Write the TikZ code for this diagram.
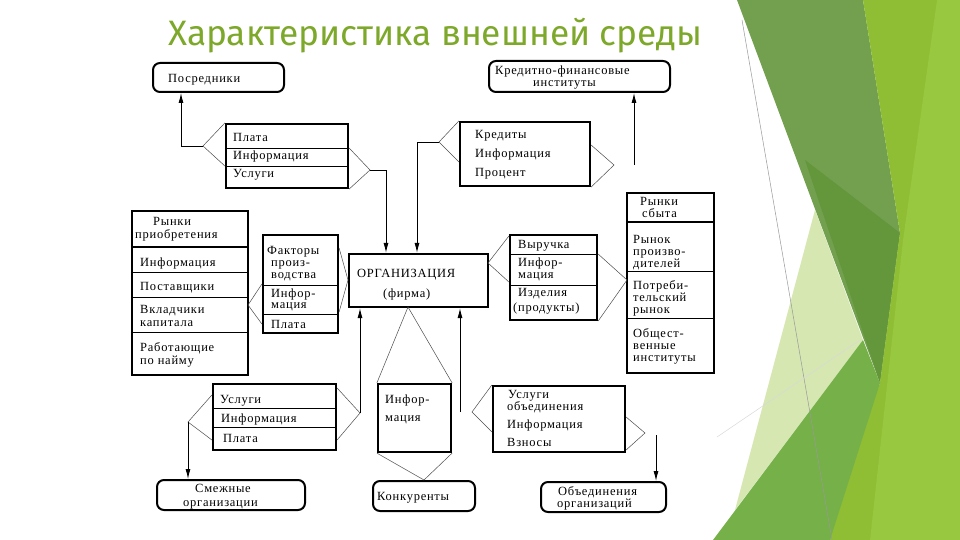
\documentclass[tikz,border=0pt]{standalone}
\usepackage{fontspec}
\usetikzlibrary{arrows.meta,calc,positioning}
\newfontfamily\scanfont[LetterSpace=6]{Liberation Serif}
\newfontfamily\titlefont{Fira Sans}
\definecolor{titlegreen}{RGB}{125,168,42}
\definecolor{bandgreen}{RGB}{114,160,78}
\definecolor{darkgreen}{RGB}{100,150,60}
\definecolor{limegreen}{RGB}{143,190,52}
\definecolor{lightlime}{RGB}{152,199,64}
\definecolor{midgreen}{RGB}{118,176,72}
\definecolor{palegreen}{RGB}{214,231,178}
\tikzset{
  tbl/.style={draw, line width=2.2pt, inner sep=0pt},
  rbox/.style={draw, line width=2pt, rounded corners=7pt, inner sep=0pt},
  lbl/.style={anchor=base west, inner sep=0pt, font=\scanfont\fontsize{12.5}{13}\selectfont},
  sep/.style={line width=0.8pt},
  hsep/.style={line width=2pt},
  brk/.style={line width=0.5pt, black!70},
  conn/.style={line width=0.9pt},
  arr/.style={conn, -{Latex[length=10pt,width=5pt]}},
}
\begin{document}
\begin{tikzpicture}[x=1pt,y=-1pt]
  \useasboundingbox (0,0) rectangle (960,540);
  \fill[white] (0,0) rectangle (960,540);

  % green decoration on the right
  \fill[palegreen] (815,210) -- (735,510) -- (863,340) -- cycle;
  \fill[bandgreen] (737,0) -- (863,0) -- (900,233) -- (880,383) -- cycle;
  \fill[darkgreen] (805,160) -- (900,233) -- (880,383) -- cycle;
  \fill[limegreen] (863,0) -- (960,0) -- (960,540) -- (817,540) -- (880,383) -- (900,233) -- cycle;
  \fill[lightlime] (937,0) -- (960,0) -- (960,540) -- (870,540) -- (903,240) -- cycle;
  \fill[midgreen] (713,540) -- (863,340) -- (880,383) -- (830,540) -- cycle;
  \draw[black!40, line width=0.5pt] (742,20) -- (832,540);
  \draw[black!15, line width=0.5pt] (717,437) -- (860,340);

  \node[anchor=base west, inner sep=0pt, font=\titlefont\fontsize{35.3}{40}\selectfont, text=titlegreen] (title) at (168,46) {Характеристика внешней среды};

  % outer partners
  \node[rbox, minimum width=131, minimum height=29] (posr) at (218.5,77.5) {};
  \node[lbl] (posrT) at (168,83) {Посредники};
  \node[rbox, minimum width=181, minimum height=31] (kred) at (579.5,76.5) {};
  \node[lbl] (kredT1) at (495,75) {Кредитно-финансовые};
  \node[lbl] (kredT2) at (533,87) {институты};
  \node[rbox, minimum width=148, minimum height=30] (smezh) at (231,495) {};
  \node[lbl] (smT1) at (195,492) {Смежные};
  \node[lbl] (smT2) at (183,506) {организации};
  \node[rbox, minimum width=102, minimum height=30] (konk) at (424,496) {};
  \node[lbl] (konT) at (377,500) {Конкуренты};
  \node[rbox, minimum width=125, minimum height=30] (obed) at (603.5,497) {};
  \node[lbl] (obdT1) at (558,495) {Объединения};
  \node[lbl] (obdT2) at (557,507) {организаций};

  % organisation
  \node[tbl, minimum width=139, minimum height=53] (org) at (418.5,280.5) {};
  \node[lbl] (orgT1) at (357,277) {ОРГАНИЗАЦИЯ};
  \node[lbl] (orgT2) at (383,297) {(фирма)};

  % flow tables
  \node[tbl, minimum width=122, minimum height=64] (plata) at (287,156) {};
  \foreach \y in {148,166} \draw[sep] (plata.west |- 0,\y) -- (plata.east |- 0,\y);
  \node[lbl] (plT1) at (233,142) {Плата};
  \node[lbl] (plT2) at (233,160) {Информация};
  \node[lbl] (plT3) at (233,178) {Услуги};

  \node[tbl, minimum width=130, minimum height=64] (cred) at (525,154) {};
  \node[lbl] (crT1) at (475,139) {Кредиты};
  \node[lbl] (crT2) at (475,158) {Информация};
  \node[lbl] (crT3) at (475,177) {Процент};

  \node[tbl, minimum width=116, minimum height=164] (rpri) at (190,293) {};
  \draw[hsep] (rpri.west |- 0,247) -- (rpri.east |- 0,247);
  \foreach \y in {272,297,332} \draw[sep] (rpri.west |- 0,\y) -- (rpri.east |- 0,\y);
  \node[lbl] (rpT1) at (153,225) {Рынки};
  \node[lbl] (rpT2) at (135,238) {приобретения};
  \node[lbl] (rpT3) at (140,266) {Информация};
  \node[lbl] (rpT4) at (140,290) {Поставщики};
  \node[lbl] (rpT5) at (140,313) {Вкладчики};
  \node[lbl] (rpT6) at (140,326) {капитала};
  \node[lbl] (rpT7) at (140,351) {Работающие};
  \node[lbl] (rpT8) at (140,364) {по найму};

  \node[tbl, minimum width=75, minimum height=98] (fact) at (300.5,284) {};
  \foreach \y in {285,314} \draw[sep] (fact.west |- 0,\y) -- (fact.east |- 0,\y);
  \node[lbl] (fT1) at (267,254) {Факторы};
  \node[lbl] (fT2) at (271,266) {произ-};
  \node[lbl] (fT3) at (271,278) {водства};
  \node[lbl] (fT4) at (271,297) {Инфор-};
  \node[lbl] (fT5) at (271,308) {мация};
  \node[lbl] (fT6) at (271,328) {Плата};

  \node[tbl, minimum width=87, minimum height=85] (vyr) at (553.5,277.5) {};
  \foreach \y in {254,285} \draw[sep] (vyr.west |- 0,\y) -- (vyr.east |- 0,\y);
  \node[lbl] (vT1) at (518,248) {Выручка};
  \node[lbl] (vT2) at (518,266) {Инфор-};
  \node[lbl] (vT3) at (518,278) {мация};
  \node[lbl] (vT4) at (518,296) {Изделия};
  \node[lbl] (vT5) at (513,311) {(продукты)};

  \node[tbl, minimum width=87, minimum height=180] (rsb) at (670.5,283) {};
  \draw[hsep] (rsb.west |- 0,222) -- (rsb.east |- 0,222);
  \foreach \y in {271,318} \draw[sep] (rsb.west |- 0,\y) -- (rsb.east |- 0,\y);
  \node[lbl] (rsT1) at (640,205) {Рынки};
  \node[lbl] (rsT2) at (642,217) {сбыта};
  \node[lbl] (rsT3) at (633,243) {Рынок};
  \node[lbl] (rsT4) at (633,255) {произво-};
  \node[lbl] (rsT5) at (633,267) {дителей};
  \node[lbl] (rsT6) at (633,289) {Потреби-};
  \node[lbl] (rsT7) at (633,301) {тельский};
  \node[lbl] (rsT8) at (633,313) {рынок};
  \node[lbl] (rsT9) at (633,337) {Общест-};
  \node[lbl] (rsT10) at (633,349) {венные};
  \node[lbl] (rsT11) at (633,361) {институты};

  \node[tbl, minimum width=123, minimum height=66] (usl) at (274.5,417) {};
  \foreach \y in {408,427} \draw[sep] (usl.west |- 0,\y) -- (usl.east |- 0,\y);
  \node[lbl] (uT1) at (220,403) {Услуги};
  \node[lbl] (uT2) at (221,422) {Информация};
  \node[lbl] (uT3) at (223,442) {Плата};

  \node[tbl, minimum width=73, minimum height=68] (inf) at (414.5,418) {};
  \node[lbl] (iT1) at (385,403) {Инфор-};
  \node[lbl] (iT2) at (385,421) {мация};

  \node[tbl, minimum width=132, minimum height=66] (uob) at (559,419) {};
  \node[lbl] (obT1) at (508,398) {Услуги};
  \node[lbl] (obT2) at (507,410) {объединения};
  \node[lbl] (obT3) at (507,428) {Информация};
  \node[lbl] (obT4) at (507,446) {Взносы};

  % bracket tips
  \coordinate (pL) at (203,146);
  \coordinate (pR) at (370,170);
  \coordinate (cL) at (439,142);
  \coordinate (cR) at (614,165);
  \coordinate (kf) at (634,165);
  \coordinate (fL) at (248,305);
  \coordinate (fR) at (348,280);
  \coordinate (vL) at (488,263);
  \coordinate (vR) at (627,280);
  \coordinate (uL) at (188,422);
  \coordinate (uR) at (360,413);
  \coordinate (oB) at (408,307);
  \coordinate (oL) at (472,412);
  \coordinate (oV) at (460,412);
  \coordinate (oR) at (645,433);
  \coordinate (oD) at (656,435);

  % brackets
  \draw[brk] (plata.north west) -- (pL) -- (plata.west |- 0,166);
  \draw[brk] (plata.east |- 0,148) -- (pR) -- (plata.south east);
  \draw[brk] (cred.north west) -- (cL) -- (cred.west |- 0,162);
  \draw[brk] (cred.east |- 0,145) -- (cR) -- (cred.south east);
  \draw[brk] (fact.west |- 0,284) -- (fL) -- (fact.west |- 0,324);
  \draw[brk] (fact.east |- 0,248) -- (fR) -- (fact.east |- 0,312);
  \draw[brk] (vyr.west |- 0,236) -- (vL) -- (vyr.west |- 0,282);
  \draw[brk] (vyr.east |- 0,254) -- (vR) -- (vyr.south east);
  \draw[brk] (usl.west |- 0,395) -- (uL) -- (usl.west |- 0,440);
  \draw[brk] (usl.east |- 0,388) -- (uR) -- (usl.east |- 0,440);
  \draw[brk] (inf.north west) -- (oB) -- (inf.north east);
  \draw[brk] (inf.south west) -- (konk.north) -- (inf.south east);
  \draw[brk] (uob.north west) -- (oL) -- (uob.west |- 0,432);
  \draw[brk] (uob.east |- 0,417) -- (oR) -- (uob.east |- 0,450);

  % connectors
  \draw[arr] (pL) -| ([xshift=-37.5]posr.south);
  \draw[arr] (pR) -| ([xshift=-32.5]org.north);
  \draw[arr] (cL) -| ([xshift=-1.5]org.north);
  \draw[arr] (kf) -- (kf |- kred.south);
  \draw[arr] (uR) -- (uR |- org.south);
  \draw[arr] (oV) -- (oV |- org.south);
  \draw[arr] (uL) -- (uL |- smezh.north);
  \draw[arr] (oD) -- (oD |- obed.north);
\end{tikzpicture}
\end{document}
